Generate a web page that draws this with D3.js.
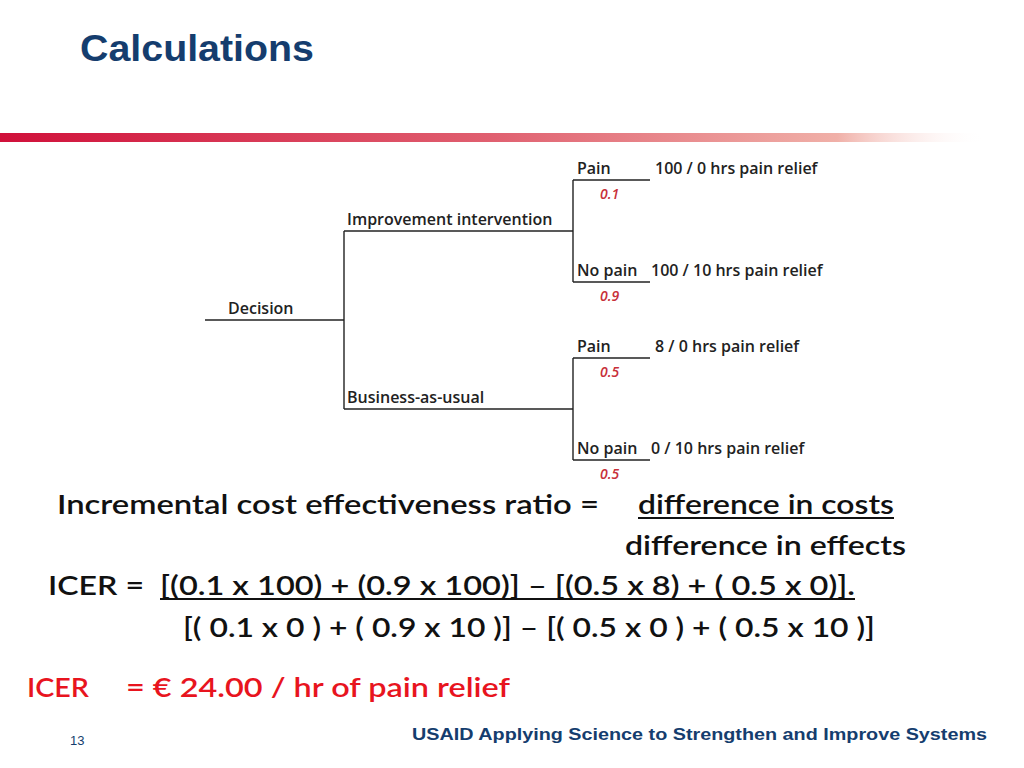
<!DOCTYPE html>
<html><head><meta charset="utf-8">
<script src="https://cdn.jsdelivr.net/npm/d3@7"></script>
<style>body{margin:0;background:#fff}</style></head>
<body><svg id="c" width="1024" height="768"></svg>
<script>
// Decision tree data
const rootLabel = "Decision";
const strategies = ["Improvement intervention", "Business-as-usual"];
const outcomes = ["Pain", "No pain"];
const probabilities = [[0.1, 0.9], [0.5, 0.5]];
const payoffs = [["100  / 0 hrs pain relief", "100 / 10 hrs pain relief"],
                 ["8 / 0 hrs pain relief", "0 / 10 hrs pain relief"]];
const formulaLines = [
  "Incremental cost effectiveness ratio   =",
  "difference in costs",
  "difference in effects",
  "ICER  =",
  "[(0.1 x 100) + (0.9 x 100)] – [(0.5 x 8) + ( 0.5 x 0)].",
  "[( 0.1 x 0 ) + ( 0.9 x 10 )] – [( 0.5 x  0 ) + ( 0.5 x 10 )]"
];
const result = ["ICER", "=  € 24.00 / hr of pain relief"];

const svg = d3.select("#c");
const defs = svg.append("defs");
const g = defs.append("linearGradient").attr("id","bar");
g.append("stop").attr("offset","0").attr("stop-color","#d0103a");
g.append("stop").attr("offset","0.5").attr("stop-color","#e06070");
g.append("stop").attr("offset","0.85").attr("stop-color","#f0b0a8");
g.append("stop").attr("offset","1").attr("stop-color","#fff").attr("stop-opacity",0);

svg.append("text").attr("x",80).attr("y",61).text("Calculations")
  .attr("font-family","Liberation Sans, Arial").attr("font-weight","bold")
  .attr("font-size",36).attr("textLength",234).attr("lengthAdjust","spacingAndGlyphs").attr("fill","#153d6e");
svg.append("rect").attr("x",0).attr("y",133).attr("width",985).attr("height",9).attr("fill","url(#bar)");

// Tree layout via scales
const xs = d3.scaleOrdinal().domain(["root","mid","leaf","end"]).range([205,344,573,650]);
const stratYs = d3.scalePoint().domain(strategies).range([231,409]);
const leafOff = d3.scalePoint().domain(outcomes).range([-51,51]);
const tf = "Open Sans, Noto Sans, sans-serif";
const T = svg.append("g").attr("stroke","#222").attr("stroke-width",1.4).attr("fill","none");
const stratY = strategies.map(s=>stratYs(s));
const rootY = d3.mean(stratY);
const tx = svg.append("g").attr("font-family",tf).attr("font-weight",600).attr("font-size",16).attr("fill","#222");
T.append("line").attr("x1",xs("root")).attr("x2",xs("mid")).attr("y1",rootY).attr("y2",rootY);
T.append("line").attr("x1",xs("mid")).attr("x2",xs("mid")).attr("y1",stratY[0]).attr("y2",stratY[1]);
tx.append("text").attr("x",228).attr("y",rootY-6).text(rootLabel);
strategies.forEach((s,i)=>{
  const y=stratY[i];
  T.append("line").attr("x1",xs("mid")).attr("x2",xs("leaf")).attr("y1",y).attr("y2",y);
  T.append("line").attr("x1",xs("leaf")).attr("x2",xs("leaf")).attr("y1",y+leafOff(outcomes[0])).attr("y2",y+leafOff(outcomes[1]));
  tx.append("text").attr("x",347).attr("y",y-6).text(s);
  outcomes.forEach((o,j)=>{
    const ly=y+leafOff(o);
    T.append("line").attr("x1",xs("leaf")).attr("x2",xs("end")).attr("y1",ly).attr("y2",ly);
    tx.append("text").attr("x",577).attr("y",ly-6).text(o);
    tx.append("text").attr("x",600).attr("y",ly+19).attr("font-style","italic").attr("font-size",14)
      .attr("fill","#c8303a").text(probabilities[i][j]);
    tx.append("text").attr("x",j===0?655:651).attr("y",ly-6).text(payoffs[i][j]);
  });
});

// Formula
const F = svg.append("g").attr("font-family","Lato, sans-serif").attr("font-weight",600).attr("font-size",27).attr("fill","#111");
const put=(t,x,y,w,u)=>{F.append("text").attr("x",x).attr("y",y).text(t)
  .attr("textLength",w).attr("lengthAdjust","spacingAndGlyphs");
  if(u) F.append("line").attr("x1",x).attr("x2",x+w).attr("y1",y+4).attr("y2",y+4).attr("stroke","#111").attr("stroke-width",2);};
put(formulaLines[0],57,514,542);
put(formulaLines[1],638,514,256,1);
put(formulaLines[2],625,555,281);
put(formulaLines[3],48,595,96);
put(formulaLines[4],160,595,695,1);
put(formulaLines[5],183,637,692);
const R=svg.append("g").attr("font-family","Lato, sans-serif").attr("font-weight",600).attr("font-size",27).attr("fill","#e8141e");
R.append("text").attr("x",27).attr("y",697).attr("textLength",62).attr("lengthAdjust","spacingAndGlyphs").text(result[0]);
R.append("text").attr("x",126).attr("y",697).attr("textLength",384).attr("lengthAdjust","spacingAndGlyphs").text(result[1]);
svg.append("text").attr("x",70).attr("y",745).text("13").attr("font-family","Liberation Sans, Arial").attr("font-size",13).attr("fill","#153d6e");
svg.append("text").attr("x",412).attr("y",740).attr("textLength",575).attr("lengthAdjust","spacingAndGlyphs").text("USAID Applying Science to Strengthen and Improve Systems")
  .attr("font-family","Liberation Sans, Arial").attr("font-weight","bold").attr("font-size",17).attr("fill","#153d6e");
</script></body></html>
